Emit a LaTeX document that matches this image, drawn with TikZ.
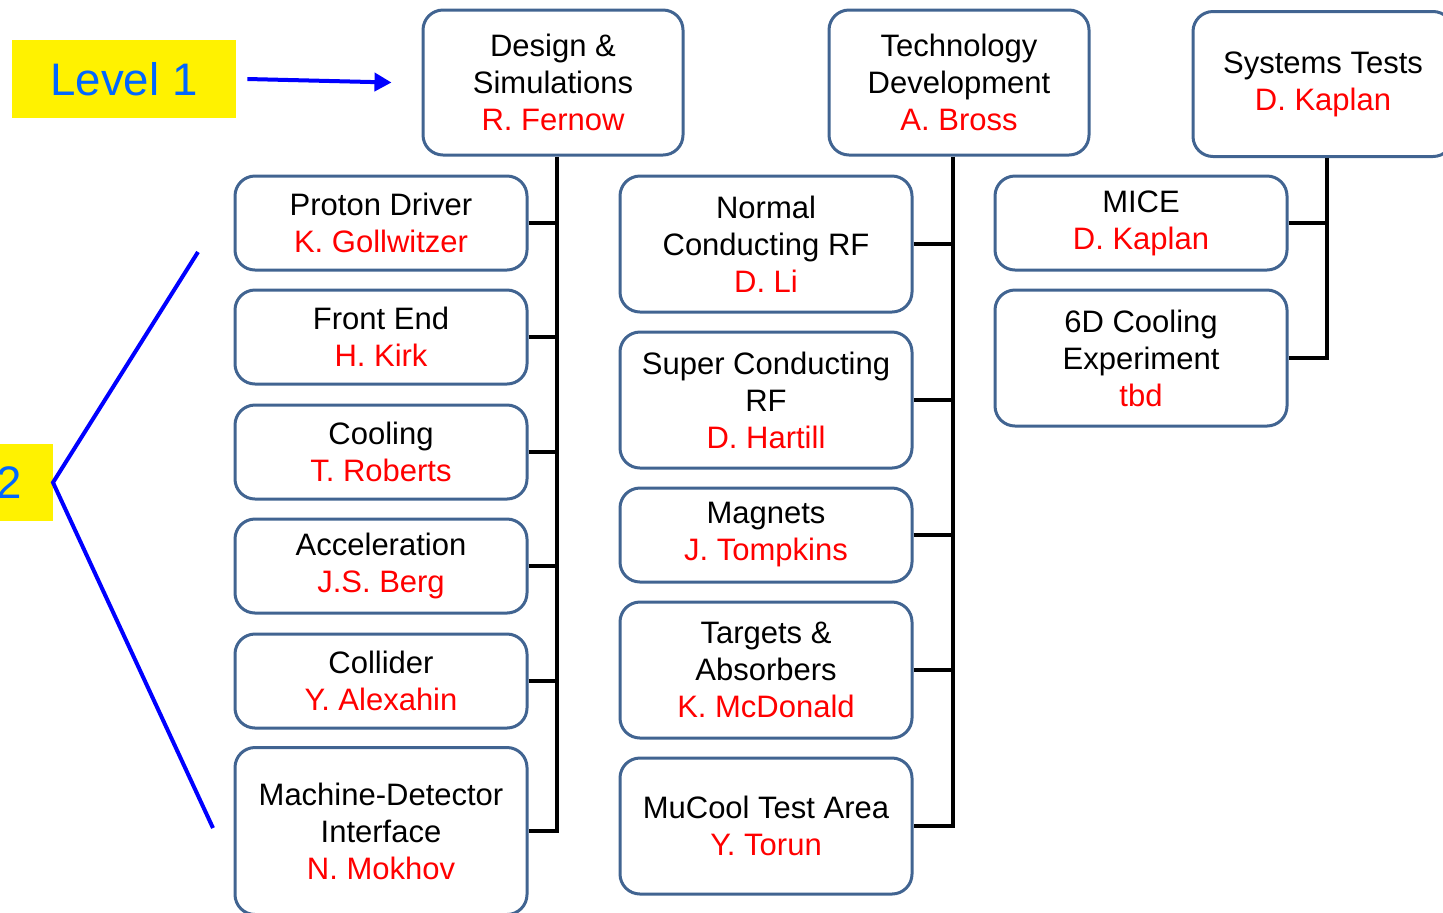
\documentclass[tikz,border=0pt]{standalone}
\usepackage{fontspec}
\setmainfont{Liberation Sans}
\usetikzlibrary{arrows.meta}
\definecolor{boxline}{RGB}{65,100,145}
\definecolor{lvlblue}{RGB}{0,102,255}
\tikzset{wp/.style = {draw=boxline, line width=1.5pt, rounded corners=10pt, fill=white,
    align=center, inner sep=0pt, font=\fontsize{15.5}{18.5}\selectfont},
  wptop/.style = {wp, minimum width=130pt, minimum height=72.5pt},
  wpsmall/.style = {wp, minimum width=146pt, minimum height=47pt},
  wptall/.style = {wp, minimum width=146pt, minimum height=68pt},
  lvl/.style = {fill=yellow, text=lvlblue, inner sep=0pt, font=\fontsize{22.8}{27}\selectfont},
  tie/.style = {line width=2.25pt}}
\newcommand{\lead}[1]{\\\textcolor{red}{#1}}

\begin{document}
\begin{tikzpicture}[x=0.5pt,y=-0.5pt]
    \clip(0,0)rectangle(1443,912);

    \node[lvl,minimum width=112pt,minimum height=39pt](lv1)at(124,79){Level 1};
    \node[lvl,minimum width=43pt,minimum height=38.5pt,anchor=east](lv2)at(53,482.5){2};

    \node[wptop](des)at(553,82.5){Design \&\\Simulations\lead{R. Fernow}};
    \node[wptop](tech)at(959,82.5){Technology\\Development\lead{A. Bross}};
    \node[wptop](sys)at(1323,84){Systems Tests\lead{D. Kaplan}};

    \node[wpsmall](pd)at(381,223){Proton Driver\lead{K. Gollwitzer}};
    \node[wpsmall](fe)at(381,337){Front End\lead{H. Kirk}};
    \node[wpsmall](cool)at(381,452){Cooling\lead{T. Roberts}};
    \node[wpsmall](acc)at(381,566){Acceleration\lead{J.S. Berg}};
    \node[wpsmall](coll)at(381,681){Collider\lead{Y. Alexahin}};
    \node[wptall,minimum height=83.5pt](mdi)at(381,831){Machine-Detector\\Interface\lead{N. Mokhov}};

    \node[wptall](ncrf)at(766,244){Normal\\Conducting RF\lead{D. Li}};
    \node[wptall](scrf)at(766,400){Super Conducting\\RF\lead{D. Hartill}};
    \node[wpsmall](mag)at(766,535){Magnets\lead{J. Tompkins}};
    \node[wptall](targ)at(766,670){Targets \&\\Absorbers\lead{K. McDonald}};
    \node[wptall](mct)at(766,826){MuCool Test Area\lead{Y. Torun}};

    \node[wpsmall](mice)at(1141,223){MICE\lead{D. Kaplan}};
    \node[wptall](sixd)at(1141,358){6D Cooling\\Experiment\lead{tbd}};

    \coordinate(sp1)at([xshift=2pt]des.south);
    \coordinate(sp2)at([xshift=-3pt]tech.south);
    \coordinate(sp3)at([xshift=2pt]sys.south);
    \draw[tie](sp1)|-(mdi.east);
    \foreach \n in {pd,fe,cool,acc,coll}
        \draw[tie](\n.east)--(\n.east-|sp1);
    \draw[tie](sp2)|-(mct.east);
    \foreach \n in {ncrf,scrf,mag,targ}
        \draw[tie](\n.east)--(\n.east-|sp2);
    \draw[tie](sp3)|-(sixd.east);
    \draw[tie](mice.east)--(mice.east-|sp3);

    \draw[blue,line width=2pt,-{Triangle[length=8.5pt,width=9pt]}]([xshift=5.5pt]lv1.east)--([xshift=-15pt]des.west);
    \coordinate(btop)at(198,252);
    \coordinate(bbot)at(213,828);
    \draw[blue,line width=2pt](btop)--(lv2.east)--(bbot);
\end{tikzpicture}
\end{document}
